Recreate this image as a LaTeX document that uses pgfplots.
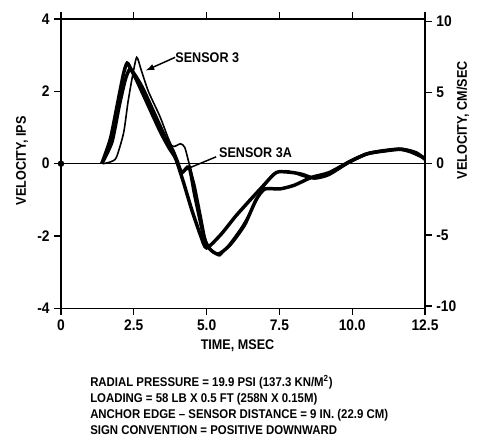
\documentclass[border=0pt]{standalone}
\usepackage{fontspec}
\setmainfont{Liberation Sans}[FakeStretch=0.9]
\usepackage{pgfplots}
\pgfplotsset{compat=1.18}

\begin{document}
\begin{tikzpicture}[font=\fontsize{10.5}{12.6}\selectfont\bfseries]
\begin{axis}[
    name=main,
    scale only axis,
    width=273pt, height=217pt,
    xmin=0, xmax=12.5, ymin=-4, ymax=4,
    xtick={0,2.5,5,7.5,10,12.5},
    xticklabels={0,2.5,5.0,7.5,10.0,12.5},
    ytick={-4,-2,0,2,4},
    yticklabels={-4,-2,0,2,4},
    ytick pos=left,
    xtick pos=both,
    tick align=outside,
    major tick length=5pt,
    axis line style={line width=1.1pt},
    every tick/.style={line width=1pt, black},
    tick label style={font=\fontsize{11.5}{13}\selectfont\bfseries},
    xlabel={TIME, MSEC},
    ylabel={VELOCITY, IPS},
    xlabel style={at={(axis description cs:0.485,-0.128)}, anchor=center},
    ylabel style={at={(axis description cs:-0.107,0.51)}, anchor=center},
    /pgf/number format/assume math mode=true,
    clip=false
]
% zero line and origin dot
\addplot[line width=1pt] coordinates {(0,0) (12.5,0)};
\addplot[only marks, mark=*, mark size=2.2pt] coordinates {(0,0)};

% trace 1 (early, thick)
\addplot[line width=2.6pt, smooth, tension=0.4] coordinates {
    (1.40,0) (1.70,0.70) (1.95,1.70) (2.15,2.50) (2.27,2.78) (2.40,2.62)
    (2.60,2.30) (3.00,1.60) (3.40,0.90) (3.70,0.45) (3.90,0.20) (4.00,0.00)
    (4.20,-0.50) (4.50,-1.30) (4.80,-2.00) (5.00,-2.33) (5.50,-1.95)
    (6.00,-1.45) (6.50,-1.00) (6.90,-0.65) (7.30,-0.30) (7.50,-0.22)
    (8.00,-0.25) (8.30,-0.30) (8.70,-0.40) (9.20,-0.30) (9.90,0.05)
    (10.50,0.27) (11.00,0.35) (11.60,0.40) (12.00,0.33) (12.50,0.15)
};

% trace 2 (late rise, thin)
\addplot[line width=1.2pt, smooth, tension=0.4] coordinates {
    (1.45,0) (1.70,0.05) (1.90,0.17) (2.15,0.85) (2.30,1.70) (2.45,2.40)
    (2.60,2.94) (2.75,2.60) (3.00,2.00) (3.40,1.30) (3.80,0.50) (4.10,0.55)
    (4.25,0.45) (4.40,0.00) (4.60,-0.60) (4.80,-1.40) (5.00,-2.20)
    (5.20,-2.40) (5.45,-2.55) (5.80,-2.20) (6.20,-1.75) (6.60,-1.20)
    (7.00,-0.60) (7.40,-0.25) (7.80,-0.20) (8.30,-0.35) (8.70,-0.40)
    (9.30,-0.25) (9.90,0.02) (10.50,0.25) (11.10,0.35) (11.60,0.42)
    (12.10,0.35) (12.50,0.15)
};

% trace 3 (thick, small negative loop near 4.2 msec)
\addplot[line width=2.6pt, smooth, tension=0.4] coordinates {
    (1.40,0) (1.75,0.60) (2.00,1.60) (2.20,2.30) (2.35,2.60) (2.50,2.50)
    (2.80,2.10) (3.20,1.40) (3.60,0.70) (3.85,0.35) (4.00,0.05) (4.15,-0.25)
    (4.40,-0.10) (4.60,-0.90) (4.90,-2.00) (5.10,-2.35) (5.40,-2.50)
    (5.80,-2.25) (6.30,-1.70) (6.70,-1.00) (7.00,-0.70) (7.50,-0.70)
    (8.00,-0.60) (8.60,-0.38) (9.20,-0.25) (9.90,0.05) (10.50,0.27)
    (11.10,0.35) (11.70,0.40) (12.20,0.30) (12.50,0.12)
};

% annotations
\node[anchor=west, inner sep=0pt] (s3) at (axis cs:3.92,2.94) {SENSOR 3};
\draw[line width=1.1pt, -latex] (s3.west) -- (axis cs:2.92,2.58);
\node[anchor=west, inner sep=0pt] (s3a) at (axis cs:5.42,0.30) {SENSOR 3A};
\draw[line width=1.1pt, -latex] (s3a.west) ++(-2pt,-3pt) -- (axis cs:4.19,-0.19);
\end{axis}

\begin{axis}[
    scale only axis,
    width=273pt, height=217pt,
    xmin=0, xmax=12.5, ymin=-10.16, ymax=10.16,
    axis x line=none,
    axis y line*=right,
    ytick={-10,-5,0,5,10},
    yticklabels={-10,-5,0,5,10},
    tick align=outside,
    major tick length=5pt,
    axis line style={line width=1.1pt},
    every tick/.style={line width=1pt, black},
    tick label style={font=\fontsize{11.5}{13}\selectfont\bfseries},
    ylabel={VELOCITY, CM/SEC},
    ylabel style={at={(axis description cs:1.104,0.65)}, anchor=center},
    /pgf/number format/assume math mode=true
]
\end{axis}

\node[anchor=north west, align=left, inner sep=0pt,
      font=\fontsize{9.5}{12}\selectfont\bfseries]
  at ([xshift=21.75pt,yshift=-50pt]main.south west)
  {RADIAL PRESSURE = 19.9 PSI (137.3 KN/M\textsuperscript{2})\\
   LOADING = 58 LB X 0.5 FT (258N X 0.15M)\\
   ANCHOR EDGE -- SENSOR DISTANCE = 9 IN. (22.9 CM)\\
   SIGN CONVENTION = POSITIVE DOWNWARD};

% page extent matching the reference margins
\path ([xshift=-45.75pt,yshift=14.25pt]main.north west)
      rectangle ([xshift=39.75pt,yshift=-104.25pt]main.south east);
\end{tikzpicture}
\end{document}
